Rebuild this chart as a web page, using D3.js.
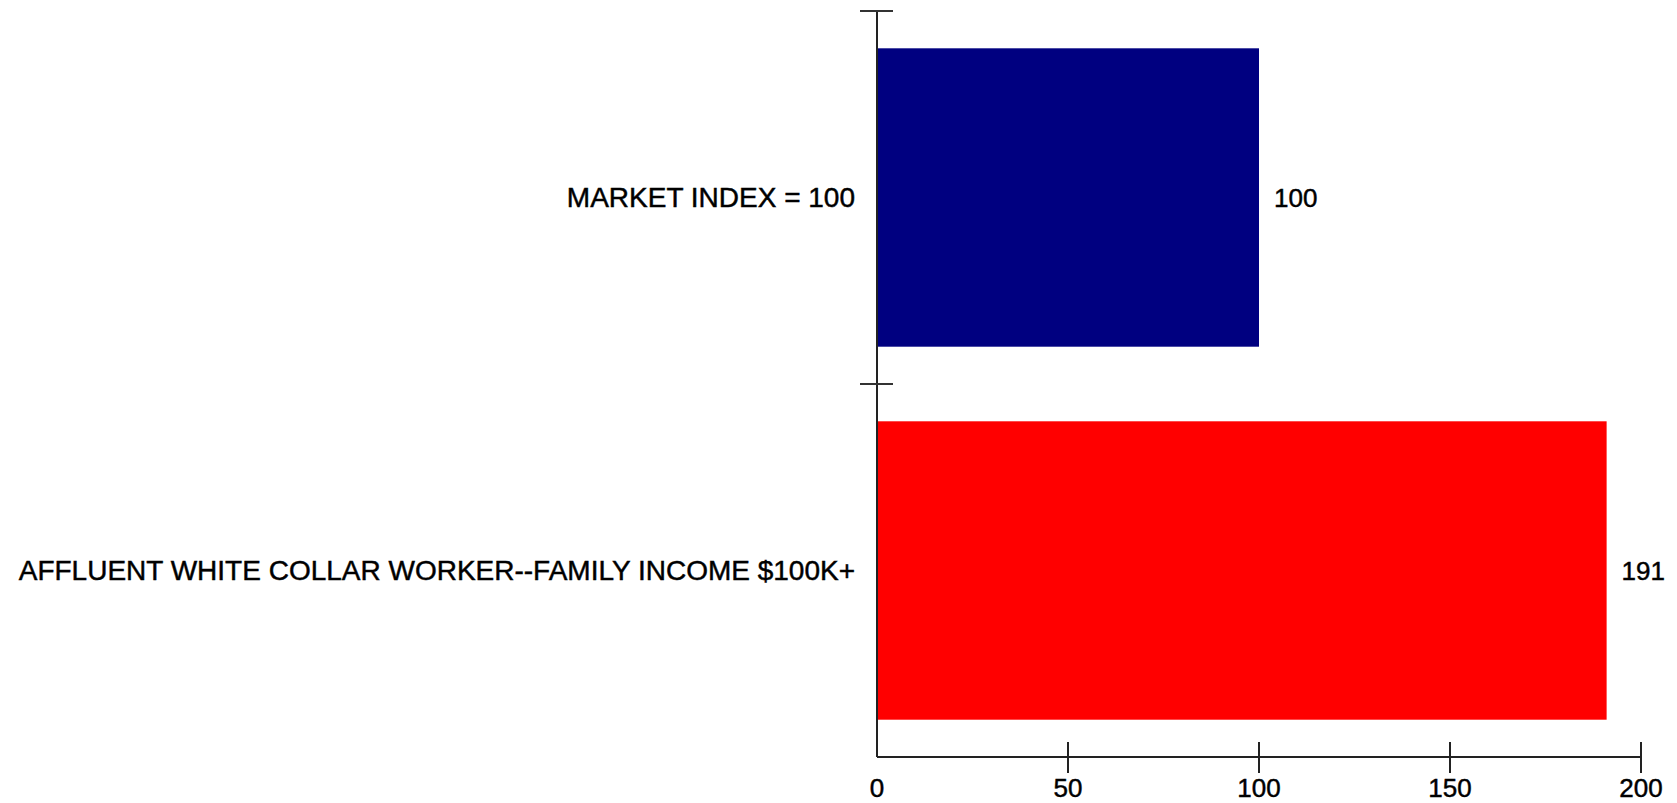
<!DOCTYPE html>
<html>
<head>
<meta charset="utf-8">
<script src="https://cdn.jsdelivr.net/npm/d3@7"></script>
<style>
  html, body { margin: 0; padding: 0; background: #fff; }
  svg { display: block; }
  text { font-family: "Liberation Sans", Arial, sans-serif; fill: #000; stroke: #000; stroke-width: 0.45px; }
</style>
</head>
<body>
<svg id="chart" width="1677" height="803"></svg>
<script>
// Index values by segment
const categories = ["MARKET INDEX = 100", "AFFLUENT WHITE COLLAR WORKER--FAMILY INCOME $100K+"];
const values = [100, 191];
const colors = ["#000080", "#ff0000"];
const xTicks = [0, 50, 100, 150, 200];

const svg = d3.select("#chart");
const plotLeft = 877, plotRight = 1641, plotTop = 11, plotBottom = 757;

const x = d3.scaleLinear().domain([0, 200]).range([plotLeft, plotRight]);
const y = d3.scaleBand().domain(categories).range([plotTop, plotBottom])
  .paddingInner(0.2).paddingOuter(0.1);

// Bars
svg.selectAll("rect.bar").data(categories).join("rect")
  .attr("class", "bar")
  .attr("x", x(0))
  .attr("y", d => y(d))
  .attr("width", (d, i) => x(values[i]) - x(0))
  .attr("height", y.bandwidth())
  .attr("fill", (d, i) => colors[i]);

// Value labels
svg.selectAll("text.val").data(categories).join("text")
  .attr("class", "val")
  .attr("x", (d, i) => x(values[i]) + 15)
  .attr("y", d => y(d) + y.bandwidth() / 2)
  .attr("dy", "0.35em")
  .attr("font-size", 26)
  .text((d, i) => values[i]);

// Category axis: line with ticks at band boundaries
const bounds = d3.range(categories.length + 1).map(i => plotTop + i * y.step());
svg.append("line")
  .attr("x1", plotLeft).attr("x2", plotLeft)
  .attr("y1", plotTop).attr("y2", plotBottom)
  .attr("stroke", "#222").attr("stroke-width", 2);
svg.selectAll("line.ytick").data(bounds.slice(0, -1)).join("line")
  .attr("class", "ytick")
  .attr("x1", plotLeft - 17).attr("x2", plotLeft + 16)
  .attr("y1", d => d).attr("y2", d => d)
  .attr("stroke", "#333").attr("stroke-width", 2);

svg.selectAll("text.cat").data(categories).join("text")
  .attr("class", "cat")
  .attr("x", plotLeft - 22)
  .attr("y", d => y(d) + y.bandwidth() / 2)
  .attr("dy", "0.35em")
  .attr("text-anchor", "end")
  .attr("font-size", 28)
  .text(d => d);

// Value axis
svg.append("line")
  .attr("x1", plotLeft).attr("x2", plotRight)
  .attr("y1", plotBottom).attr("y2", plotBottom)
  .attr("stroke", "#222").attr("stroke-width", 2);
svg.selectAll("line.xtick").data(xTicks.slice(1)).join("line")
  .attr("class", "xtick")
  .attr("x1", d => x(d)).attr("x2", d => x(d))
  .attr("y1", plotBottom - 15).attr("y2", plotBottom + 16)
  .attr("stroke", "#222").attr("stroke-width", 2);
svg.selectAll("text.xlab").data(xTicks).join("text")
  .attr("class", "xlab")
  .attr("x", d => x(d))
  .attr("y", 797)
  .attr("text-anchor", "middle")
  .attr("font-size", 26)
  .text(d => d);
</script>
</body>
</html>
